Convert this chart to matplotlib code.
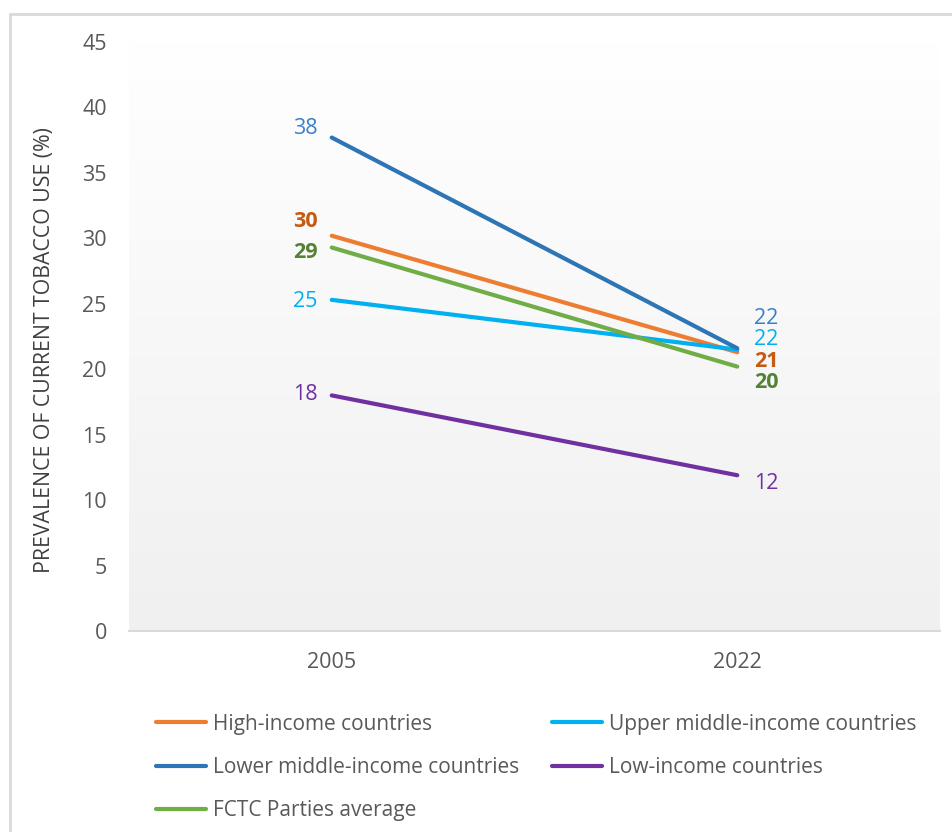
import numpy as np
import matplotlib
matplotlib.use("Agg")
import matplotlib.pyplot as plt
from matplotlib.patches import Rectangle

plt.rcParams['font.family'] = ['Open Sans', 'DejaVu Sans']

years = ["2005", "2022"]
series = ["High-income countries", "Upper middle-income countries",
          "Lower middle-income countries", "Low-income countries",
          "FCTC Parties average"]
high_income = [30.2, 21.3]
upper_middle = [25.3, 21.5]
lower_middle = [37.7, 21.6]
low_income = [18.0, 11.9]
fctc_avg = [29.3, 20.2]
labels_high = ["30", "21"]
labels_upper = ["25", "22"]
labels_lower = ["38", "22"]
labels_low = ["18", "12"]
labels_fctc = ["29", "20"]

line_colors = ["#ed7d31", "#00b0f0", "#2e75b6", "#7030a0", "#70ad47"]
label_colors = ["#c55a11", "#00b0f0", "#3a7fc8", "#7030a0", "#548235"]
label_bold = [True, False, False, False, True]
# pixel offsets of the value labels (left point, right point)
label_offsets = [((-14, 14), (17, -9)), ((-14, -2), (17, 10)),
                 ((-14, 9), (17, 30)), ((-14, 1), (17, -8)),
                 ((-14, -5), (17, -16))]

values = [high_income, upper_middle, lower_middle, low_income, fctc_avg]
labels = [labels_high, labels_upper, labels_lower, labels_low, labels_fctc]

fig = plt.figure(figsize=(9.52, 8.32), dpi=100)
ax = fig.add_axes([129/952, 1 - 631/832, 811/952, 589/832])

# frame around the chart
fig.patches.append(Rectangle((10/952, -0.05), 1.0, 1 - 14/832 + 0.05,
                             transform=fig.transFigure, fill=False,
                             edgecolor="#d9d9d9", linewidth=2))

x = np.arange(len(years))
ax.set_xlim(-0.5, 1.5)
ax.set_ylim(0, 45)

# gradient background
grad = np.linspace(1, 0, 256).reshape(-1, 1)
top = np.array([1.0, 1.0, 1.0])
bot = np.array([0xf0, 0xf0, 0xf0]) / 255
img = bot + (top - bot) * grad[..., None]
ax.imshow(img, extent=[-0.5, 1.5, 0, 45], aspect="auto", origin="upper", zorder=0)

handles = []
for i, name in enumerate(series):
    h, = ax.plot(x, values[i], color=line_colors[i], linewidth=3,
                 solid_capstyle="round", label=name, zorder=3)
    handles.append(h)
    for j in range(2):
        ha = "right" if j == 0 else "left"
        ax.annotate(labels[i][j], (x[j], values[i][j]), xytext=label_offsets[i][j],
                    textcoords="offset pixels", ha=ha, va="center",
                    color=label_colors[i], fontsize=15.5,
                    fontweight="bold" if label_bold[i] else "normal")

ax.set_xticks(x)
ax.set_xticklabels(years)
ax.set_yticks(range(0, 50, 5))
ax.tick_params(length=0, labelsize=15.5, colors="#595959")
ax.tick_params(axis="x", pad=15)
ax.tick_params(axis="y", pad=16)
for s in ["top", "right", "left"]:
    ax.spines[s].set_visible(False)
ax.spines["bottom"].set_color("#d9d9d9")
ax.spines["bottom"].set_linewidth(1.5)
ax.set_ylabel("PREVALENCE OF CURRENT TOBACCO USE (%)", fontsize=15.3,
              color="#404040")
ax.yaxis.set_label_coords(-0.0912, 0.477)

order = [0, 2, 4, 1, 3]
fig.legend([handles[k] for k in order], [series[k] for k in order],
           ncol=2, loc="upper left", bbox_to_anchor=(137/952, 1 - 695/832),
           frameon=False, fontsize=15, handlelength=2.4, handletextpad=0.33,
           labelspacing=1.07, columnspacing=1.6, labelcolor="#595959")

fig.savefig("out.png", dpi=100, facecolor="white")
